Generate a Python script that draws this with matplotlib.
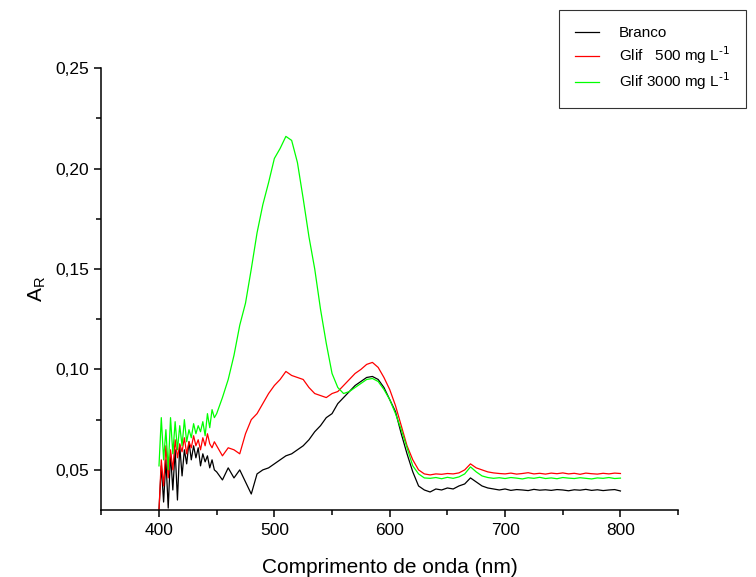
import matplotlib
matplotlib.use("Agg")
import matplotlib.pyplot as plt
import numpy as np
from matplotlib.ticker import MultipleLocator, FuncFormatter

# comprimento de onda (nm): passo 2 nm ate 448, depois 5 nm
wl = np.concatenate([np.arange(400, 450, 2), np.arange(450, 801, 5)])

branco = [
    0.030, 0.052, 0.034, 0.055, 0.031, 0.058, 0.040, 0.060, 0.035, 0.062,
    0.047, 0.060, 0.053, 0.064, 0.055, 0.062, 0.056, 0.061, 0.052, 0.058,
    0.054, 0.057, 0.051, 0.055, 0.050,
    0.049, 0.045, 0.051, 0.046, 0.050, 0.044, 0.038, 0.048, 0.050, 0.051,
    0.053, 0.055, 0.057, 0.058, 0.060, 0.062, 0.065, 0.069, 0.072, 0.076,
    0.078, 0.083, 0.086, 0.089, 0.092, 0.094, 0.096, 0.0965, 0.095, 0.091,
    0.085, 0.079, 0.068, 0.058, 0.049, 0.042, 0.040, 0.039, 0.0405, 0.040,
    0.041, 0.0405, 0.042, 0.043, 0.046, 0.044, 0.042, 0.041, 0.0405, 0.040,
    0.0405, 0.0398, 0.0402, 0.0400, 0.0397, 0.0403, 0.0399, 0.0401, 0.0398, 0.0402,
    0.0400, 0.0396, 0.0401, 0.0399, 0.0403, 0.0398, 0.0401, 0.0397, 0.0400, 0.0402,
    0.0395,
]

glif500 = [
    0.030, 0.055, 0.042, 0.062, 0.046, 0.060, 0.050, 0.065, 0.056, 0.063,
    0.059, 0.066, 0.058, 0.064, 0.061, 0.067, 0.062, 0.065, 0.060, 0.066,
    0.062, 0.068, 0.063, 0.061, 0.064,
    0.062, 0.057, 0.061, 0.060, 0.058, 0.068, 0.075, 0.078, 0.083, 0.088,
    0.092, 0.095, 0.099, 0.097, 0.096, 0.095, 0.091, 0.088, 0.087, 0.086,
    0.088, 0.089, 0.092, 0.095, 0.098, 0.100, 0.1025, 0.1035, 0.101, 0.096,
    0.090, 0.082, 0.072, 0.062, 0.055, 0.050, 0.048, 0.0475, 0.048, 0.0478,
    0.0482, 0.0480, 0.0485, 0.050, 0.053, 0.051, 0.050, 0.049, 0.0485, 0.0482,
    0.0480, 0.0484, 0.0479, 0.0482, 0.0486, 0.0480, 0.0483, 0.0479, 0.0484, 0.0481,
    0.0485, 0.0480, 0.0483, 0.0478, 0.0484, 0.0481, 0.0479, 0.0483, 0.0480, 0.0484,
    0.0482,
]

glif3000 = [
    0.052, 0.076, 0.055, 0.070, 0.050, 0.076, 0.058, 0.074, 0.060, 0.072,
    0.062, 0.075, 0.064, 0.070, 0.066, 0.073, 0.068, 0.072, 0.069, 0.074,
    0.067, 0.078, 0.071, 0.080, 0.076,
    0.078, 0.086, 0.095, 0.107, 0.122, 0.133, 0.150, 0.168, 0.182, 0.193,
    0.205, 0.210, 0.216, 0.214, 0.203, 0.185, 0.166, 0.150, 0.130, 0.113,
    0.098, 0.091, 0.088, 0.089, 0.091, 0.093, 0.095, 0.0955, 0.094, 0.090,
    0.085, 0.078, 0.070, 0.061, 0.052, 0.048, 0.046, 0.0458, 0.0462, 0.0456,
    0.0463, 0.0458, 0.0465, 0.048, 0.0515, 0.049, 0.047, 0.0462, 0.0458, 0.0461,
    0.0457, 0.0462, 0.0459, 0.0455, 0.0461, 0.0458, 0.0463, 0.0457, 0.0460, 0.0456,
    0.0462, 0.0459, 0.0457, 0.0461, 0.0458, 0.0455, 0.0460, 0.0458, 0.0462, 0.0457,
    0.0459,
]

plt.rcParams['font.family'] = ['Liberation Sans', 'DejaVu Sans']

fig = plt.figure(figsize=(7.56, 5.77), dpi=100)
ax = fig.add_axes([0.134, 0.116, 0.763, 0.766])

l1, = ax.plot(wl, branco, color="black", lw=0.9)
l2, = ax.plot(wl, glif500, color="#ff0000", lw=0.9)
l3, = ax.plot(wl, glif3000, color="#00ff00", lw=0.9)

ax.set_xlim(350, 850)
ax.set_ylim(0.03, 0.25)
ax.xaxis.set_major_locator(MultipleLocator(100))
ax.xaxis.set_minor_locator(MultipleLocator(50))
ax.yaxis.set_major_locator(MultipleLocator(0.05))
ax.yaxis.set_minor_locator(MultipleLocator(0.025))
ax.yaxis.set_major_formatter(FuncFormatter(lambda v, p: f"{v:.2f}".replace(".", ",")))

ax.spines["top"].set_visible(False)
ax.spines["right"].set_visible(False)
for s in ("left", "bottom"):
    ax.spines[s].set_linewidth(1.1)
ax.tick_params(which="major", direction="out", length=5, width=1.1, labelsize=12.5, pad=4)
ax.tick_params(which="minor", direction="out", length=3.5, width=1.1)

ax.set_xlabel("Comprimento de onda (nm)", fontsize=15, labelpad=15)
ax.set_ylabel("A$_\\mathregular{R}$", fontsize=15, labelpad=5)

leg = fig.legend([l1, l2, l3],
                 ["Branco", "Glif   500 mg L$^{\\text{-1}}$", "Glif 3000 mg L$^{\\text{-1}}$"],
                 loc="upper left", bbox_to_anchor=(0.739, 0.983),
                 fontsize=11, frameon=True, fancybox=False, handlelength=1.6,
                 borderpad=1.05, labelspacing=0.3, handletextpad=1.3, borderaxespad=0)
leg.get_frame().set_edgecolor("black")
leg.get_frame().set_linewidth(0.8)

fig.savefig("out.png", dpi=100)
